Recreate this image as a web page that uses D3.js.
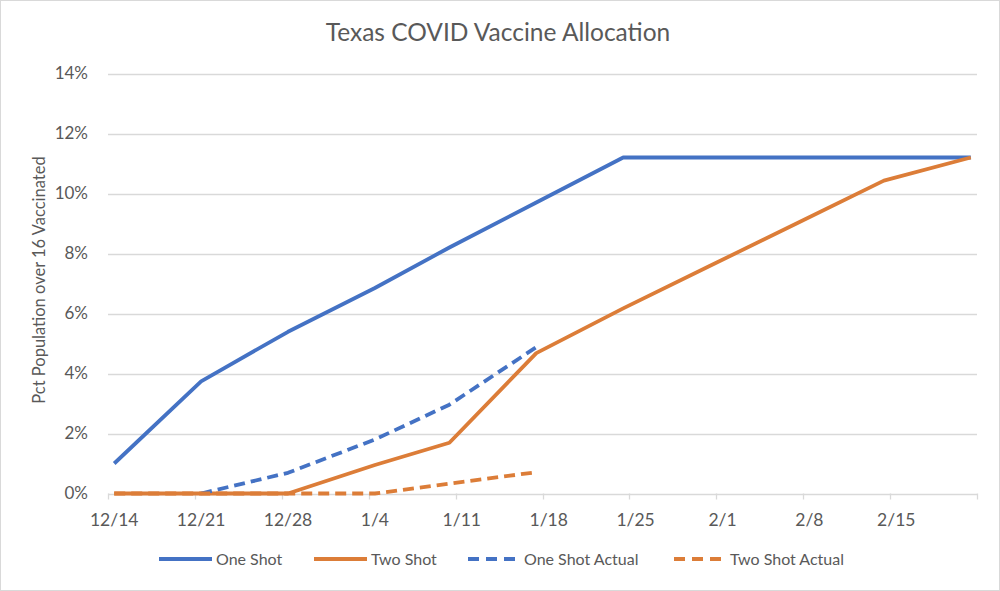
<!DOCTYPE html>
<html>
<head>
<meta charset="utf-8">
<script src="https://cdn.jsdelivr.net/npm/d3@7"></script>
<style>
  html, body { margin: 0; padding: 0; background: #fff; }
  text { font-family: Lato, "Open Sans", sans-serif; fill: #595959; }
</style>
</head>
<body>
<svg id="chart"></svg>
<script>
// data (percent of population over 16)
const dates = ["2020-12-14", "2020-12-21", "2020-12-28", "2021-01-04", "2021-01-10", "2021-01-17",
               "2021-01-24", "2021-01-31", "2021-02-07", "2021-02-14", "2021-02-21"];
const oneShot = [1.0, 3.74, 5.39, 6.85, 8.2, 9.7, 11.2, 11.2, 11.2, 11.2, 11.2];
const twoShot = [0, 0, 0, 0.95, 1.69, 4.68, 6.17, 7.59, 9.01, 10.43, 11.2];
const oneShotActual = [null, 0, 0.69, 1.8, 2.96, 4.88];
const twoShotActual = [0, 0, 0, 0, 0.33, 0.71];
const yTicks = [0, 2, 4, 6, 8, 10, 12, 14];

const seriesNames = ["One Shot", "Two Shot", "One Shot Actual", "Two Shot Actual"];
const seriesColors = ["#4472C4", "#DC7D38", "#4472C4", "#DC7D38"];
const seriesDashed = [false, false, true, true];

document.addEventListener("DOMContentLoaded", () => {
  const width = 1000, height = 591;
  const svg = d3.select("#chart")
    .attr("width", width)
    .attr("height", height);

  // chart border
  svg.append("rect")
    .attr("x", 0.5).attr("y", 0.5)
    .attr("width", width - 1).attr("height", height - 1)
    .attr("fill", "#fff")
    .attr("stroke", "#d9d9d9");

  const parse = d3.utcParse("%Y-%m-%d");
  const day = 864e5;
  const start = parse(dates[0]);
  // each date owns a one-day slot; points sit in the middle of the slot
  const x = d3.scaleUtc()
    .domain([start, new Date(+parse(dates[dates.length - 1]) + day)])
    .range([108, 977]);
  const y = d3.scaleLinear().domain([0, 14]).range([493.5, 73.5]);

  // gridlines
  svg.append("g")
    .selectAll("line")
    .data(yTicks)
    .join("line")
      .attr("x1", x.range()[0]).attr("x2", x.range()[1])
      .attr("y1", d => Math.round(y(d)) + 0.5)
      .attr("y2", d => Math.round(y(d)) + 0.5)
      .attr("stroke", "#d9d9d9")
      .attr("stroke-width", 1.3);

  // y labels
  svg.append("g")
    .selectAll("text")
    .data(yTicks)
    .join("text")
      .attr("x", 88)
      .attr("y", d => y(d))
      .attr("dy", "0.35em")
      .attr("text-anchor", "end")
      .attr("font-size", 17)
      .text(d => d + "%");

  // x ticks (weekly) and labels centred in the day slot
  const xTicks = d3.utcMonday.range(start, x.domain()[1]);
  const xAxis = svg.append("g");
  xAxis.selectAll("line")
    .data([...xTicks, x.domain()[1]])
    .join("line")
      .attr("x1", d => Math.round(x(d)) + 0.5)
      .attr("x2", d => Math.round(x(d)) + 0.5)
      .attr("y1", y(0)).attr("y2", y(0) + 6)
      .attr("stroke", "#d9d9d9")
      .attr("stroke-width", 1.3);
  xAxis.selectAll("text")
    .data(xTicks)
    .join("text")
      .attr("x", d => x(new Date(+d + day / 2)))
      .attr("y", 526)
      .attr("text-anchor", "middle")
      .attr("font-size", 17.5)
      .text(d3.utcFormat("%-m/%-d"));

  // lines
  const allValues = [oneShot, twoShot, oneShotActual, twoShotActual];
  const line = d3.line()
    .defined(d => d.v != null)
    .x(d => x(new Date(+d.date + day / 2)))
    .y(d => y(d.v));

  allValues.forEach((vals, i) => {
    const pts = vals.map((v, j) => ({ date: parse(dates[j]), v }));
    svg.append("path")
      .datum(pts)
      .attr("d", line)
      .attr("fill", "none")
      .attr("stroke", seriesColors[i])
      .attr("stroke-width", 3.8)
      .attr("stroke-linejoin", "round")
      .attr("stroke-dasharray", seriesDashed[i] ? "11,6" : null);
  });

  // title
  svg.append("text")
    .attr("x", 498).attr("y", 41)
    .attr("text-anchor", "middle")
    .attr("font-size", 24.5)
    .text("Texas COVID Vaccine Allocation");

  // y axis title
  svg.append("text")
    .attr("transform", "translate(45,280) rotate(-90)")
    .attr("text-anchor", "middle")
    .attr("font-size", 16.5)
    .text("Pct Population over 16 Vaccinated");

  // legend
  const legendX = [159, 314, 468, 674];
  const legend = svg.append("g")
    .selectAll("g")
    .data(seriesNames)
    .join("g")
      .attr("transform", (d, i) => `translate(${legendX[i]},559)`);
  legend.append("line")
    .attr("x1", 0).attr("x2", (d, i) => seriesDashed[i] ? 48 : 53)
    .attr("stroke", (d, i) => seriesColors[i])
    .attr("stroke-width", 3.8)
    .attr("stroke-dasharray", (d, i) => seriesDashed[i] ? "11,7" : null);
  legend.append("text")
    .attr("x", (d, i) => seriesDashed[i] ? 56 : 57)
    .attr("dy", "0.35em")
    .attr("font-size", 16)
    .text(d => d);
});
</script>
</body>
</html>
